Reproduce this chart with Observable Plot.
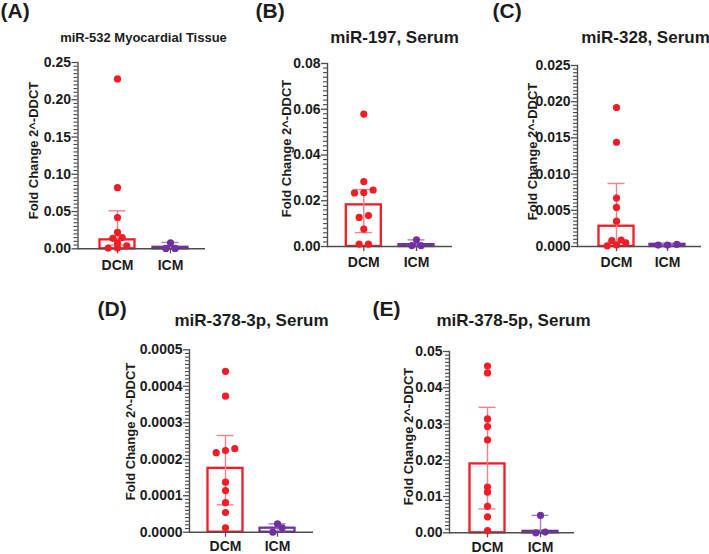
<!DOCTYPE html>
<html><head><meta charset="utf-8">
<script src="https://cdn.jsdelivr.net/npm/d3@7"></script>
<script src="https://cdn.jsdelivr.net/npm/@observablehq/plot@0.6"></script>
<style>
body{margin:0;background:#fff;}
#chart{position:relative;width:709px;height:554px;overflow:hidden;font-family:"Liberation Sans",Arial,sans-serif;background:#fff;}
#chart svg{position:absolute;}
</style></head><body><div id="chart"></div>
<script>
// ---------- data ----------
const groups = ["DCM", "ICM"];
const panelLetters = ["(A)", "(B)", "(C)", "(D)", "(E)"];
const panelTitles = ["miR-532 Myocardial Tissue", "miR-197, Serum", "miR-328, Serum", "miR-378-3p, Serum", "miR-378-5p, Serum"];
const yLabel = "Fold Change 2^-DDCT";
const yMax = [0.25, 0.08, 0.025, 0.0005, 0.05];
const yTickStep = [0.05, 0.02, 0.005, 0.0001, 0.01];
const yTickDecimals = [2, 2, 3, 4, 2];

const dcmA = [0.228, 0.082, 0.042, 0.022, 0.015, 0.014, 0.0075, 0.004, 0.001, 0.001];
const icmA = [0.008, 0.0005, 0.0005];
const barA = [0.012, 0.002];
const errLoA = [0.005, 0.0005];
const errHiA = [0.051, 0.0085];

const dcmB = [0.0579, 0.0284, 0.0247, 0.0236, 0.0234, 0.0135, 0.0127, 0.0076, 0.0010, 0.0010];
const icmB = [0.0029, 0.0004, 0.0004];
const barB = [0.0182, 0.0008];
const errLoB = [0.0061, 0.0002];
const errHiB = [0.0249, 0.0029];

const dcmC = [0.0192, 0.0144, 0.0067, 0.0054, 0.0035, 0.0009, 0.0008, 0.0005, 0.0002, 0.0001];
const icmC = [0.0002, 0.0003, 0.0002];
const barC = [0.0028, 0.0003];
const errLoC = [0.0007, 0.0002];
const errHiC = [0.0087, 0.0004];

const dcmD = [0.000441, 0.000373, 0.000229, 0.000224, 0.000218, 0.000137, 0.000114, 0.000081, 0.000054, 0.000012];
const icmD = [0.000023, 0.000012, 0.0];
const barD = [0.000175, 0.000011];
const errLoD = [0.000075, 0.0];
const errHiD = [0.000265, 0.000023];

const dcmE = [0.0460, 0.0441, 0.0314, 0.0293, 0.0256, 0.0126, 0.0112, 0.0073, 0.0044, 0.0006];
const icmE = [0.0048, 0.0000, 0.0002];
const barE = [0.0190, 0.0004];
const errLoE = [0.0066, 0.0];
const errHiE = [0.0346, 0.0048];

// ---------- layout & style ----------
const RED = "#f01c26", RED_ERR = "#f8808a", PURPLE = "#70309f", PURPLE_ERR = "#a57cc8";
const AXIS = "#4d4d4d", INK = "#1c1c1c";
const FONT = "'Liberation Sans', Arial, sans-serif";

const boxes = [
  {L:0,   T:0,   W:225, H:280, fl:77.5, ft:62,    fr:205, fb:248.3, c1:117,   c2:170,   tx:143, ty:41,  ts:13, lx:0,   ly:17,  ax:33,  ay:150, xpad:6},
  {L:228, T:0,   W:232, H:280, fl:327,  ft:63,    fr:452, fb:246,   c1:363.3, c2:416,   tx:394, ty:42,  ts:17, lx:255, ly:17,  ax:286, ay:148, xpad:6},
  {L:462, T:0,   W:247, H:280, fl:577,  ft:65,    fr:701, fb:246,   c1:616,   c2:667,   tx:645, ty:42,  ts:17, lx:492, ly:17,  ax:532, ay:151, xpad:6},
  {L:90,  T:290, W:240, H:264, fl:189,  ft:349.3, fr:313, fb:531.7, c1:225,   c2:277,   tx:251, ty:325, ts:17, lx:97,  ly:315, ax:130, ay:431, xpad:4},
  {L:350, T:290, W:240, H:264, fl:449,  ft:351,   fr:574, fb:532.3, c1:487,   c2:540,   tx:513, ty:325, ts:17, lx:372, ly:315, ax:408, ay:436, xpad:4}
];

const panelsData = [
  [dcmA, icmA, barA, errLoA, errHiA],
  [dcmB, icmB, barB, errLoB, errHiB],
  [dcmC, icmC, barC, errLoC, errHiC],
  [dcmD, icmD, barD, errLoD, errHiD],
  [dcmE, icmE, barE, errLoE, errHiE]
];

const chart = document.getElementById("chart");

panelsData.forEach(([dcm, icm, bar, lo, hi], i) => {
  const b = boxes[i];
  const max = yMax[i], step = yTickStep[i];
  const nMaj = Math.round(max / step);
  const major = d3.range(0, nMaj + 1).map(k => k * step);
  const minor = d3.range(0, nMaj * 10 + 1).filter(k => k % 10 !== 0).map(k => k * step / 10);
  const stepPx = b.c2 - b.c1;
  const pad = 1 - 35 / stepPx;
  const frameW = b.fr - b.fl;

  const summary = groups.map((g, j) => ({group: g, mean: bar[j], lo: lo[j], hi: hi[j]}));

  // simple swarm layout: stack points whose pixel positions are close into centred rows
  const ypx = d3.scaleLinear([0, max], [b.fb, b.ft]);
  const pts = [];
  [["DCM", dcm], ["ICM", icm]].forEach(([g, vals]) => {
    const sorted = [...vals].sort((a, c) => a - c);
    let row = [];
    const flush = () => { row.forEach((v, k) => pts.push({group: g, value: v, slot: 2 * k - (row.length - 1)})); row = []; };
    sorted.forEach(v => {
      if (row.length && ypx(row[0]) - ypx(v) > 4.5) flush();
      row.push(v);
    });
    flush();
  });
  const slots = Array.from(new Set(pts.map(p => p.slot)));

  const errMarks = [];
  [["DCM", RED_ERR], ["ICM", PURPLE_ERR]].forEach(([g, col]) => {
    const d = summary.filter(s => s.group === g);
    errMarks.push(
      Plot.ruleX(d, {x: "group", y1: "lo", y2: "hi", stroke: col, strokeWidth: 1.4}),
      Plot.tickY(d, {x: "group", y: "hi", stroke: col, strokeWidth: 1.4, insetLeft: 9, insetRight: 9}),
      Plot.tickY(d, {x: "group", y: "lo", stroke: col, strokeWidth: 1.4, insetLeft: 9, insetRight: 9})
    );
  });

  const svg = Plot.plot({
    width: b.W, height: b.H,
    marginLeft: b.fl - b.L, marginTop: b.ft - b.T,
    marginRight: b.L + b.W - b.fr, marginBottom: b.T + b.H - b.fb,
    style: {fontFamily: FONT, background: "transparent", overflow: "visible"},
    x: {type: "band", domain: groups, range: [b.c1 - stepPx / 2 - b.L, b.c2 + stepPx / 2 - b.L], paddingInner: pad, paddingOuter: pad / 2, round: false},
    y: {domain: [0, max]},
    color: {domain: groups, range: [RED, PURPLE]},
    marks: [
      Plot.barY(summary, {x: "group", y: "mean", fill: "white", stroke: "group", strokeWidth: 2.3}),
      ...errMarks,
      Plot.ruleY([0], {stroke: AXIS, strokeWidth: 1.4}),
      // minor ticks at the left edge of the frame
      Plot.ruleY(minor, {y: d => d, stroke: "#444", strokeWidth: 1.1, insetRight: frameW - 4, dx: -4}),
      Plot.frame({anchor: "left", stroke: AXIS, strokeWidth: 1.4}),
      Plot.axisY(major, {anchor: "left", tickSize: 6, tickPadding: 1, tickFormat: d => d.toFixed(yTickDecimals[i]), fontSize: 14, fontWeight: "bold", stroke: AXIS, strokeWidth: 1.3, fill: INK, label: null}),
      Plot.axisX({tickSize: 5, tickPadding: b.xpad, fontSize: 14, fontWeight: "bold", stroke: AXIS, strokeWidth: 1.3, fill: INK, label: null}),
      ...slots.map(s => Plot.dot(pts.filter(p => p.slot === s), {x: "group", y: "value", dx: s * 4.65, r: 3.6, fill: "group", stroke: "none"})),
      Plot.text([yLabel], {frameAnchor: "left", dx: b.ax - b.fl, dy: b.ay - (b.ft + b.fb) / 2, rotate: -90, textAnchor: "middle", lineAnchor: "middle", fontSize: 13, fontWeight: "bold", fill: INK}),
      Plot.text([panelTitles[i]], {frameAnchor: "top-left", dx: b.tx - b.fl, dy: b.ty - b.ft, textAnchor: "middle", lineAnchor: "bottom", fontSize: b.ts, fontWeight: "bold", fill: INK}),
      Plot.text([panelLetters[i]], {frameAnchor: "top-left", dx: b.lx - b.fl, dy: b.ly - b.ft, textAnchor: "start", lineAnchor: "bottom", fontSize: 21, fontWeight: "bold", fill: INK})
    ]
  });
  svg.style.left = b.L + "px";
  svg.style.top = b.T + "px";
  chart.appendChild(svg);
});
</script>
</body></html>
